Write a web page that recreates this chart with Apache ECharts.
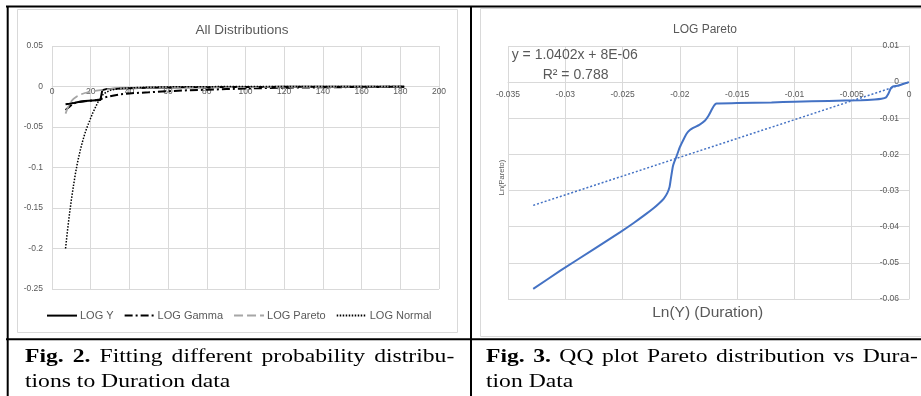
<!DOCTYPE html>
<html>
<head>
<meta charset="utf-8">
<script src="https://cdn.jsdelivr.net/npm/echarts@6/dist/echarts.min.js"></script>
<style>
  html, body { margin: 0; padding: 0; background: #fff; }
  #wrap { position: relative; width: 921px; height: 396px; overflow: hidden; background: #fff; }
  #chart { position: absolute; left: 0; top: 0; width: 921px; height: 396px; }
  .cap { position: absolute; font-family: "Liberation Serif", "Times New Roman", serif; font-size: 18.6px;
         line-height: 25px; color: #000; transform: scaleX(1.27); transform-origin: 0 0; white-space: normal; }
  .just { text-align: justify; text-align-last: justify; }
</style>
</head>
<body>
<div id="wrap">
  <div id="chart"></div>
  <div class="cap just" style="left:25px; top:343px; width:338px;"><b>Fig. 2.</b> Fitting different probability distribu-</div>
  <div class="cap" style="left:25px; top:368px; width:338px;">tions to Duration data</div>
  <div class="cap just" style="left:486px; top:343px; width:340px;"><b>Fig. 3.</b> QQ plot Pareto distribution vs Dura-</div>
  <div class="cap" style="left:486px; top:368px; width:340px;">tion Data</div>
</div>
<script>
// ---------- Left chart: All Distributions ----------
const durX = [7,8,9,10,11,12,13,14,15,16,17,18,19,20,21,22,23,24,25,26,27,28,30,32,35,40,45,50,60,70,80,90,100,110,120,130,140,150,160,170,182];
const logY = [-0.022,-0.0217,-0.0213,-0.021,-0.0205,-0.02,-0.0195,-0.019,-0.0186,-0.0182,-0.018,-0.0178,-0.0176,-0.0174,-0.0172,-0.017,-0.017,-0.017,-0.0168,-0.0045,-0.0036,-0.0032,-0.003,-0.0028,-0.0025,-0.0022,-0.0019,-0.0016,-0.0012,-0.001,-0.0008,-0.0007,-0.0006,-0.0005,-0.0004,-0.0003,-0.0003,-0.0002,-0.0002,-0.0002,-0.0002];
const logGamma = [-0.029,-0.027,-0.025,-0.023,-0.021,-0.02,-0.0195,-0.019,-0.0188,-0.0185,-0.0182,-0.018,-0.0177,-0.0175,-0.0172,-0.017,-0.0168,-0.0165,-0.016,-0.0145,-0.0135,-0.0127,-0.012,-0.011,-0.0098,-0.0085,-0.0078,-0.0072,-0.0058,-0.0047,-0.004,-0.0032,-0.0025,-0.002,-0.0015,-0.0012,-0.001,-0.0008,-0.0006,-0.0005,-0.0004];
const logPareto = [-0.0335,-0.027,-0.022,-0.018,-0.0155,-0.0135,-0.012,-0.0107,-0.0097,-0.0088,-0.008,-0.0074,-0.0069,-0.0064,-0.006,-0.0056,-0.0052,-0.0048,-0.0044,-0.0041,-0.0038,-0.0035,-0.0031,-0.0028,-0.0024,-0.002,-0.0017,-0.0015,-0.0012,-0.001,-0.0009,-0.0008,-0.0007,-0.0006,-0.0005,-0.0004,-0.0004,-0.0003,-0.0003,-0.0003,-0.0002];
const logNormal = [-0.2,-0.178,-0.158,-0.14,-0.124,-0.109,-0.096,-0.085,-0.075,-0.066,-0.058,-0.051,-0.045,-0.039,-0.033,-0.028,-0.023,-0.018,-0.014,-0.011,-0.0085,-0.0068,-0.0048,-0.0036,-0.0026,-0.0017,-0.0012,-0.0009,-0.0005,-0.0003,-0.0002,-0.0001,-0.0001,0,0,0,0,0,0,0,0];
const legendNames = ['LOG Y','LOG Gamma','LOG Pareto','LOG Normal'];

// ---------- Right chart: LOG Pareto QQ ----------
const qqX = [-0.0328,-0.0304,-0.0275,-0.0252,-0.0240,-0.0230,-0.0223,-0.0218,-0.0214,-0.0211,-0.0209,-0.0208,-0.0207,-0.0206,-0.0205,-0.0203,-0.0200,-0.0197,-0.0194,-0.0191,-0.0188,-0.0183,-0.0178,-0.0175,-0.0172,-0.0170,-0.0168,-0.0150,-0.0120,-0.0100,-0.0070,-0.0042,-0.0030,-0.0024,-0.0020,-0.0018,-0.0016,-0.0014,-0.0010,-0.0006,0];
const qqY = [-0.0572,-0.0521,-0.0462,-0.0415,-0.0389,-0.0366,-0.0349,-0.0335,-0.0322,-0.0307,-0.0290,-0.0270,-0.0250,-0.0232,-0.0222,-0.0206,-0.0180,-0.0160,-0.0142,-0.0132,-0.0126,-0.0118,-0.0106,-0.0093,-0.0075,-0.0064,-0.0059,-0.0058,-0.0056,-0.0054,-0.0052,-0.0050,-0.0048,-0.0046,-0.0042,-0.0032,-0.0018,-0.0012,-0.0010,-0.0006,0];
const trendX = [-0.0328, 0];
const trendY = [-0.0341, 0.000008];
const eqText = 'y = 1.0402x + 8E-06';
const r2Text = 'R\u00B2 = 0.788';

const grayTxt = '#595959';
const gridCol = '#d9d9d9';
const fmt = v => String(+(+v).toFixed(4));
const pairs = (xs, ys) => xs.map((x, i) => [x, ys[i]]);

// grid geometry (pixels)
const G0 = {left: 52, right: 439, top: 46, bottom: 289};
const G1 = {left: 508, right: 909, top: 46, bottom: 299};
// x-axis sits on y = 0 (Excel style): offset from bottom edge to the zero line
const zeroOff0 = -((G0.bottom - G0.top) * (0 - (-0.25)) / (0.05 - (-0.25)));
const zeroOff1 = -((G1.bottom - G1.top) * (0 - (-0.06)) / (0.01 - (-0.06)));

const chart = echarts.init(document.getElementById('chart'), null, {renderer: 'canvas'});
const lineSeries = (name, ys, color, width, type) => ({
  name, type: 'line', xAxisIndex: 0, yAxisIndex: 0, data: pairs(durX, ys),
  symbol: 'circle', showSymbol: false, smooth: false,
  lineStyle: {color, width, type}, itemStyle: {color}, z: 3
});

chart.setOption({
  animation: false,
  backgroundColor: '#fff',
  title: [
    {text: 'All Distributions', left: 237, top: 25, textAlign: 'center', textVerticalAlign: 'middle',
     textStyle: {fontFamily: 'Liberation Sans', fontSize: 13.5, fontWeight: 'normal', color: grayTxt}},
    {text: 'LOG Pareto', left: 700, top: 25, textAlign: 'center', textVerticalAlign: 'middle',
     textStyle: {fontFamily: 'Liberation Sans', fontSize: 12, fontWeight: 'normal', color: grayTxt}}
  ],
  legend: {
    data: legendNames, left: 41, top: 305, itemWidth: 30, itemHeight: 14, itemGap: 10,
    itemStyle: {opacity: 0},
    textStyle: {fontFamily: 'Liberation Sans', fontSize: 11, color: grayTxt, padding: [0,0,0,-2]}
  },
  grid: [
    {left: G0.left, right: 921 - G0.right, top: G0.top, bottom: 396 - G0.bottom},
    {left: G1.left, right: 921 - G1.right, top: G1.top, bottom: 396 - G1.bottom}
  ],
  xAxis: [
    {type: 'value', gridIndex: 0, min: 0, max: 200, interval: 20, position: 'bottom', offset: zeroOff0,
     axisLine: {onZero: false, lineStyle: {color: gridCol, width: 1}}, axisTick: {show: false},
     axisLabel: {fontFamily: 'Liberation Sans', fontSize: 8.5, color: grayTxt, margin: 1, formatter: fmt},
     splitLine: {show: true, lineStyle: {color: gridCol, width: 1}}},
    {type: 'value', gridIndex: 1, min: -0.035, max: 0, interval: 0.005, position: 'bottom', offset: zeroOff1,
     axisLine: {onZero: false, lineStyle: {color: gridCol, width: 1}}, axisTick: {show: false},
     axisLabel: {fontFamily: 'Liberation Sans', fontSize: 8.5, color: grayTxt, margin: 8, formatter: fmt},
     splitLine: {show: true, lineStyle: {color: gridCol, width: 1}}}
  ],
  yAxis: [
    {type: 'value', gridIndex: 0, min: -0.25, max: 0.05, interval: 0.05,
     axisLine: {show: false, onZero: false}, axisTick: {show: false},
     axisLabel: {fontFamily: 'Liberation Sans', fontSize: 8.5, color: grayTxt, margin: 9, formatter: fmt},
     splitLine: {show: true, lineStyle: {color: gridCol, width: 1}}},
    {type: 'value', gridIndex: 1, position: 'right', min: -0.06, max: 0.01, interval: 0.01,
     axisLine: {show: true, onZero: false, lineStyle: {color: gridCol, width: 1}}, axisTick: {show: false},
     axisLabel: {inside: true, fontFamily: 'Liberation Sans', fontSize: 8.5, color: grayTxt, margin: 10, formatter: fmt},
     splitLine: {show: true, lineStyle: {color: gridCol, width: 1}}}
  ],
  series: [
    lineSeries('LOG Y', logY, '#000000', 2, 'solid'),
    lineSeries('LOG Gamma', logGamma, '#000000', 2, [8, 3, 2, 3]),
    lineSeries('LOG Pareto', logPareto, '#a6a6a6', 1.75, [9, 4]),
    lineSeries('LOG Normal', logNormal, '#000000', 1.5, [1.5, 1.5]),
    {name: 'QQ', type: 'line', xAxisIndex: 1, yAxisIndex: 1, data: pairs(qqX, qqY),
     symbol: 'none', showSymbol: false, smooth: 0.2,
     lineStyle: {color: '#4472c4', width: 2}, itemStyle: {color: '#4472c4'}, z: 3},
    {name: 'Trend', type: 'line', xAxisIndex: 1, yAxisIndex: 1, data: pairs(trendX, trendY),
     symbol: 'none', showSymbol: false,
     lineStyle: {color: '#4472c4', width: 1.5, type: [2, 2]}, itemStyle: {color: '#4472c4'}, z: 2}
  ],
  graphic: [
    // chart frames
    {type: 'rect', shape: {x: 17.5, y: 9.5, width: 440, height: 323}, style: {fill: null, stroke: gridCol, lineWidth: 1}, z: 1},
    {type: 'rect', shape: {x: 480.5, y: 8.5, width: 460, height: 328}, style: {fill: null, stroke: gridCol, lineWidth: 1}, z: 1},
    // table lines
    {type: 'line', shape: {x1: 6, y1: 6.5, x2: 921, y2: 6.5}, style: {stroke: '#000', lineWidth: 2}, z: 10},
    {type: 'line', shape: {x1: 7.7, y1: 6, x2: 7.7, y2: 396}, style: {stroke: '#000', lineWidth: 2}, z: 10},
    {type: 'line', shape: {x1: 471, y1: 6, x2: 471, y2: 396}, style: {stroke: '#000', lineWidth: 2}, z: 10},
    {type: 'line', shape: {x1: 6, y1: 339.3, x2: 921, y2: 339.3}, style: {stroke: '#000', lineWidth: 2}, z: 10},
    // right chart texts
    {type: 'text', x: 511.7, y: 55, style: {text: eqText, fontFamily: 'Liberation Sans', fontSize: 14, fill: grayTxt, verticalAlign: 'middle', align: 'left'}, z: 5},
    {type: 'text', x: 542.7, y: 75, style: {text: r2Text, fontFamily: 'Liberation Sans', fontSize: 14, fill: grayTxt, verticalAlign: 'middle', align: 'left'}, z: 5},
    {type: 'text', x: 707.7, y: 313, style: {text: 'Ln(Y) (Duration)', fontFamily: 'Liberation Sans', fontSize: 15.5, fill: grayTxt, verticalAlign: 'middle', align: 'center'}, z: 5},
    {type: 'text', x: 501.7, y: 177.5, rotation: Math.PI / 2, style: {text: 'Ln(Pareto)', fontFamily: 'Liberation Sans', fontSize: 7.5, fill: grayTxt, verticalAlign: 'middle', align: 'center'}, z: 5}
  ]
});
</script>
</body>
</html>
